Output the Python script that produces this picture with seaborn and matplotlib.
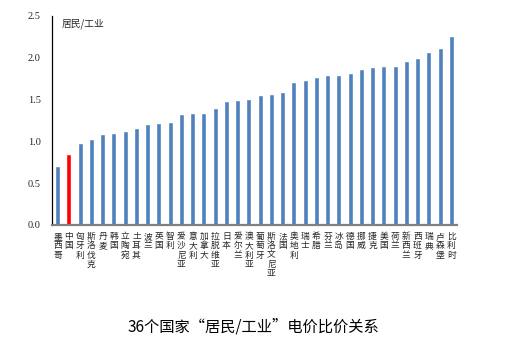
# -*- coding: utf-8 -*-
import numpy as np
import pandas as pd
import matplotlib
matplotlib.use("Agg")
import matplotlib.pyplot as plt
import seaborn as sns

# data
countries = ["墨西哥", "中国", "匈牙利", "斯洛伐克", "丹麦", "韩国", "立陶宛", "土耳其",
             "波兰", "英国", "智利", "爱沙尼亚", "意大利", "加拿大", "拉脱维亚", "日本",
             "爱尔兰", "澳大利亚", "葡萄牙", "斯洛文尼亚", "法国", "奥地利", "瑞士", "希腊",
             "芬兰", "冰岛", "德国", "挪威", "捷克", "美国", "荷兰", "新西兰",
             "西班牙", "瑞典", "卢森堡", "比利时"]
ratios = [0.70, 0.85, 0.98, 1.03, 1.09, 1.10, 1.12, 1.16,
          1.21, 1.22, 1.23, 1.33, 1.34, 1.34, 1.40, 1.48,
          1.49, 1.51, 1.55, 1.57, 1.59, 1.71, 1.73, 1.77,
          1.79, 1.79, 1.82, 1.87, 1.89, 1.90, 1.90, 1.96,
          1.99, 2.07, 2.11, 2.26]
yticks = [0.0, 0.5, 1.0, 1.5, 2.0, 2.5]
highlight = "中国"

sns.set_style("white")
plt.rcParams["font.family"] = ["Noto Sans CJK SC", "DejaVu Sans"]

df = pd.DataFrame({"country": countries, "ratio": ratios})
colors = ["#FF0000" if c == highlight else "#4F81BD" for c in countries]

fig = plt.figure(figsize=(5.10, 3.52), dpi=100)
ax = fig.add_axes([0.102, 0.361, 0.794, 0.594])
sns.barplot(data=df, x="country", y="ratio", hue="country", palette=colors,
            legend=False, width=0.45, saturation=1, ax=ax)

ax.set_xlim(-0.5, len(countries) - 0.5)
ax.set_ylim(0, 2.5)
ax.set_yticks(yticks)
ax.set_yticklabels([f"{v:.1f}" for v in yticks], family="Liberation Serif", fontsize=7.5)
ax.tick_params(axis="y", direction="in", length=3, width=0.8, color="black", pad=8)

ax.set_xticks(range(len(countries)))
ax.set_xticklabels(["\n".join(c) for c in countries], fontsize=6.3, linespacing=1.05)
ax.tick_params(axis="x", length=0, pad=5)
ax.set_xticks(np.arange(len(countries) + 1) - 0.5, minor=True)
ax.tick_params(axis="x", which="minor", direction="out", length=3, width=0.8, color="black")

ax.set_xlabel("")
ax.set_ylabel("")
for s in ["top", "right"]:
    ax.spines[s].set_visible(False)
ax.spines["left"].set_color("black")
ax.spines["left"].set_linewidth(0.9)
ax.spines["bottom"].set_color("#808080")
ax.spines["bottom"].set_linewidth(1.6)

ax.text(0.025, 0.985, "居民/工业", transform=ax.transAxes, fontsize=7, va="top", ha="left")
fig.text(0.497, 0.072, "36个国家“居民/工业”电价比价关系", fontsize=11, ha="center", va="center",
         color="black")

fig.savefig("out.png", dpi=100, facecolor="white")
